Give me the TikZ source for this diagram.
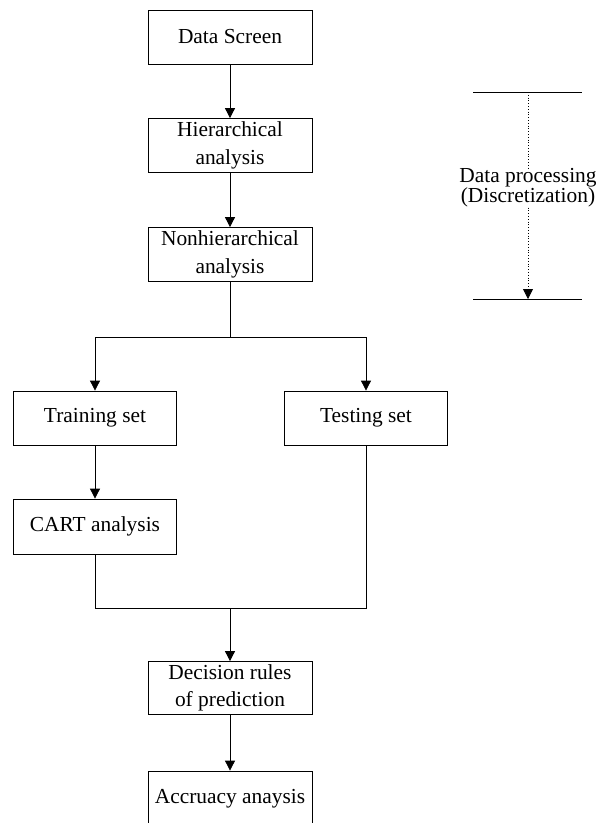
\documentclass[tikz,border=0pt]{standalone}
\usepackage{fontspec}
\setmainfont{Liberation Serif}
\usetikzlibrary{arrows.meta}
\begin{document}
\begin{tikzpicture}[x=1pt,y=-1pt,
  box/.style={draw,line width=0.8pt,minimum width=164pt,minimum height=54pt,inner sep=0pt,align=center,
    font=\fontsize{21.4}{27.5}\selectfont},
  lbl/.style={inner sep=0pt,align=center,font=\fontsize{21.4}{20}\selectfont},
  conn/.style={line width=0.8pt},
  arr/.style={conn,-{Triangle[length=10pt,width=10pt]}}]
\useasboundingbox (0,0) rectangle (598,823);
\node[box] (ds) at (230,37) {Data Screen};
\node[box] (hier) at (230,145.5) {Hierarchical\\analysis};
\node[box] (nonh) at (230,254.5) {Nonhierarchical\\analysis};
\node[box,minimum width=163pt] (train) at (95,418) {Training set};
\node[box,minimum width=163pt] (test) at (366,418) {Testing set};
\node[box,minimum width=163pt,minimum height=55pt] (cart) at (95,526.5) {CART analysis};
\node[box,minimum height=53pt] (dec) at (230,688) {Decision rules\\of prediction};
\node[box,minimum height=55pt] (acc) at (230,798.5) {Accruacy anaysis};
\coordinate (sp) at (230,337);
\coordinate (mg) at (230,608);
\draw[arr] (ds) -- (hier);
\draw[arr] (hier) -- (nonh);
\draw[conn] (nonh.south) -- (sp);
\draw[arr] (sp) -| (train.north);
\draw[arr] (sp) -| (test.north);
\draw[arr] (train) -- (cart);
\draw[conn] (cart.south) |- (mg);
\draw[conn] (test.south) |- (mg);
\draw[arr] (mg) -- (dec.north);
\draw[arr] (dec) -- (acc);
% right side
\coordinate (tl) at (473,92);
\coordinate (tr) at (582,92);
\coordinate (bl) at (473,299);
\coordinate (br) at (582,299);
\coordinate (tm) at (528,92);
\coordinate (bm) at (528,299);
\draw[conn] (tl) -- (tr);
\draw[conn] (bl) -- (br);
\node[lbl] (dp) at (528,188) {Data processing\\(Discretization)};
\draw[conn,dotted] (tm) -- (dp.north);
\draw[conn,dotted,-{Triangle[length=10pt,width=10pt]}] (dp.south) -- (bm);
\end{tikzpicture}
\end{document}
